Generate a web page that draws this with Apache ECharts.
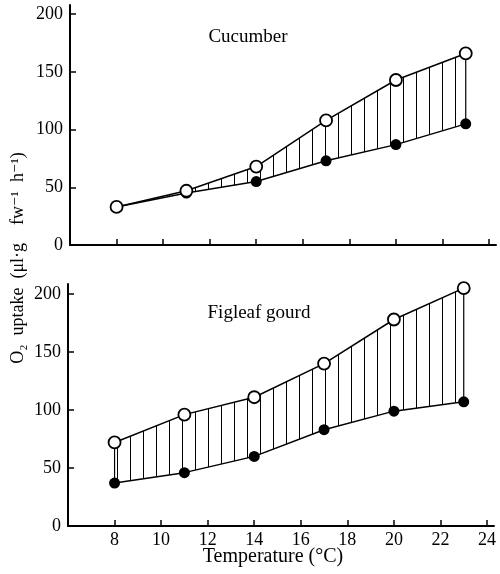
<!DOCTYPE html>
<html><head><meta charset="utf-8">
<script src="https://cdn.jsdelivr.net/npm/echarts@6/dist/echarts.min.js"></script>
<style>html,body{margin:0;padding:0;background:#fff}#c{width:500px;height:574px}</style>
</head><body><div id="c"></div>
<script>
const temps = [8, 11, 14, 17, 20, 23];
const cucumberOpen = [33, 47, 68, 108, 143, 166];
const cucumberFilled = [33, 45, 55, 73, 87, 105];
const figleafOpen = [72, 96, 111, 140, 178, 205];
const figleafFilled = [37, 46, 60, 83, 99, 107];
const xTickValues = [8, 10, 12, 14, 16, 18, 20, 22, 24];
const yTickValues = [0, 50, 100, 150, 200];
const panelTitles = ['Cucumber', 'Figleaf gourd'];
const xAxisTitle = 'Temperature (\u00B0C)';
const yAxisTitle = 'O\u2082  uptake  (\u03BCl\u00B7g    fw\u207B\u00B9  h\u207B\u00B9)';

const FONT = '"Liberation Serif", "DejaVu Serif", serif';

const pc = document.createElement('canvas');
pc.width = 13; pc.height = 4;
const pctx = pc.getContext('2d');
pctx.fillStyle = '#000';
pctx.fillRect(0, 0, 1, 4);
const pattern = {image: pc, repeat: 'repeat'};

function pairs(xs, ys) { return xs.map((x, i) => [x, ys[i]]); }

function hatchSeries(gi, up, low) {
  return {
    type: 'custom', xAxisIndex: gi, yAxisIndex: gi, z: 1, silent: true,
    data: [[temps[0], low[0]]],
    renderItem: function (params, api) {
      const upper = temps.map((t, i) => api.coord([t, up[i]]));
      const lower = temps.map((t, i) => api.coord([t, low[i]]));
      const poly = upper.concat(lower.slice().reverse());
      const children = [{type: 'polygon', shape: {points: poly}, style: {fill: pattern, stroke: null}}];
      [0, temps.length - 1].forEach((i) => {
        children.push({type: 'line', shape: {x1: upper[i][0], y1: upper[i][1], x2: lower[i][0], y2: lower[i][1]},
          style: {stroke: '#000', lineWidth: 1.2}});
      });
      return {type: 'group', children: children};
    }
  };
}

function lineSeries(gi, ys, filled) {
  return {
    type: 'line', xAxisIndex: gi, yAxisIndex: gi, data: pairs(temps, ys),
    symbol: 'circle', symbolSize: filled ? 11 : 12, z: filled ? 3 : 4,
    lineStyle: {color: '#000', width: 1.5},
    itemStyle: {color: filled ? '#000' : '#fff', borderColor: '#000', borderWidth: filled ? 0 : 1.8},
    emphasis: {disabled: true}, animation: false
  };
}

function xAxis(gi, showLabels) {
  return {
    type: 'value', gridIndex: gi, min: 6, max: 24.3,
    axisLine: {show: true, onZero: false, lineStyle: {color: '#000', width: 2}},
    axisTick: {show: true, inside: true, length: 6, customValues: xTickValues, lineStyle: {color: '#000', width: 1.5}},
    axisLabel: {show: showLabels, customValues: xTickValues, color: '#000', fontFamily: FONT, fontSize: 18, margin: 5},
    splitLine: {show: false}
  };
}
function yAxis(gi, max) {
  return {
    type: 'value', gridIndex: gi, min: 0, max: max,
    axisLine: {show: true, lineStyle: {color: '#000', width: 2}},
    axisTick: {show: true, inside: true, length: 6, customValues: yTickValues, lineStyle: {color: '#000', width: 1.5}},
    axisLabel: {customValues: yTickValues, color: '#000', fontFamily: FONT, fontSize: 18, margin: 7},
    splitLine: {show: false}
  };
}

const chart = echarts.init(document.getElementById('c'), null, {renderer: 'canvas'});
chart.setOption({
  animation: false,
  backgroundColor: '#fff',
  grid: [
    {left: 70, width: 426, top: 5, height: 240},
    {left: 68, width: 426, top: 284, height: 242}
  ],
  xAxis: [xAxis(0, false), xAxis(1, true)],
  yAxis: [yAxis(0, 208), yAxis(1, 208.6)],
  series: [
    hatchSeries(0, cucumberOpen, cucumberFilled),
    lineSeries(0, cucumberFilled, true),
    lineSeries(0, cucumberOpen, false),
    hatchSeries(1, figleafOpen, figleafFilled),
    lineSeries(1, figleafFilled, true),
    lineSeries(1, figleafOpen, false)
  ],
  graphic: [
    {type: 'text', x: 248, y: 37, style: {text: panelTitles[0], font: '19px ' + FONT, fill: '#000', align: 'center', verticalAlign: 'middle'}},
    {type: 'text', x: 259, y: 313, style: {text: panelTitles[1], font: '19px ' + FONT, fill: '#000', align: 'center', verticalAlign: 'middle'}},
    {type: 'text', x: 273, y: 557, style: {text: xAxisTitle, font: '20px ' + FONT, fill: '#000', align: 'center', verticalAlign: 'middle'}},
    {type: 'text', x: 18, y: 258, rotation: Math.PI / 2, style: {text: yAxisTitle, font: '18px ' + FONT, fill: '#000', align: 'center', verticalAlign: 'middle'}}
  ]
});
</script></body></html>
